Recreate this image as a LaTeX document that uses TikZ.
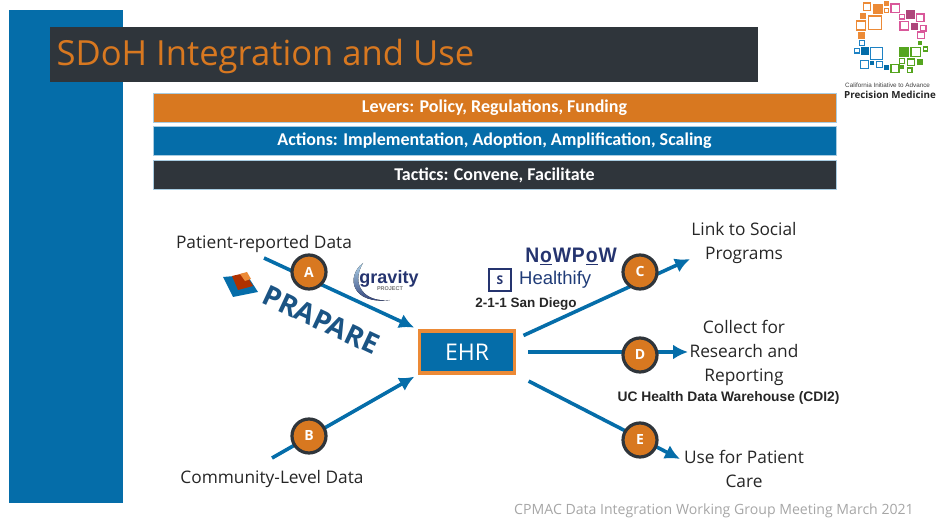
\documentclass[tikz,border=0pt]{standalone}
\usepackage{fontspec}
\setmainfont{Open Sans}
\newfontfamily\barfont{Carlito}
\newfontfamily\arialfont{Liberation Sans}
\usetikzlibrary{arrows.meta}
\definecolor{slideblue}{HTML}{056DA9}
\definecolor{slideorange}{HTML}{D87820}
\definecolor{slidedark}{HTML}{2F353B}
\definecolor{logonavy}{HTML}{25346F}
\definecolor{prapareblue}{HTML}{1B5484}
\definecolor{logoorange}{HTML}{EC8A36}
\definecolor{logopink}{HTML}{D9589A}
\definecolor{logogreen}{HTML}{55A51F}
\definecolor{logoblue}{HTML}{1E82C4}
\tikzset{
    barbox/.style={draw=slideblue!35, line width=0.8pt, text=white, minimum width=683pt, minimum height=29pt, inner sep=0pt, font=\barfont\bfseries\fontsize{18}{20}\selectfont},
    flow/.style={draw=slideblue, line width=3.6pt, -{Latex[length=15pt,width=15pt]}},
    badge/.style={circle, draw=slidedark, fill=slideorange, line width=3.2pt, inner sep=0pt, minimum size=34pt, text=white, font=\bfseries\fontsize{14}{14}\selectfont},
    label/.style={align=center, text=black!85, font=\fontsize{17.3}{24}\selectfont},
    boldnote/.style={text=black!85, font=\arialfont\bfseries\fontsize{13.8}{15}\selectfont},
    openbit/.style={draw=#1, line width=1.6pt, fill=white},
    solidbit/.style={fill=#1}
}
\begin{document}
\begin{tikzpicture}[x=1pt, y=-1pt]
    \useasboundingbox (0,0) rectangle (937,518);
    % slide frame
    \fill[slideblue] (9,10) rectangle (123,503);
    \node[fill=slidedark, minimum width=708pt, minimum height=55pt, inner sep=0pt, name=titlebar] at (404,54.5) {};
    \node[anchor=west, text=slideorange, font=\fontsize{34.6}{37}\selectfont, name=title] at (53,57) {SDoH Integration and Use};

    \node[barbox, fill=slideorange, name=levers] at (494.5,107.5) {\raisebox{-2pt}{Levers: Policy, Regulations, Funding}};
    \node[barbox, fill=slideblue, name=actions] at (494.5,140.5) {\raisebox{-2pt}{Actions: Implementation, Adoption, Amplification, Scaling}};
    \node[barbox, fill=slidedark, name=tactics] at (494.5,175) {\raisebox{-2pt}{Tactics: Convene, Facilitate}};

    % logo squares
    \begin{scope}[shift={(780,0)}, x=0.3333pt, y=-0.3333pt]
        \foreach \px/\py/\ps in {261/20/22, 320/31/12, 285/68/40, 243/77/27}
            \draw[openbit=logoorange] (\px-\ps/2,\py-\ps/2) rectangle (\px+\ps/2,\py+\ps/2);
        \foreach \px/\py/\ps in {294/27/28, 320/11/16, 249/48/18, 244/106/20}
            \fill[solidbit=logoorange] (\px-\ps/2,\py-\ps/2) rectangle (\px+\ps/2,\py+\ps/2);
        \foreach \px/\py/\ps in {346/25/25, 366/50/14, 421/53/22, 373/77/26, 430/85/16, 423/106/20}
            \draw[openbit=logopink] (\px-\ps/2,\py-\ps/2) rectangle (\px+\ps/2,\py+\ps/2);
        \foreach \px/\py/\ps in {391/44/28, 403/80/20}
            \fill[solidbit=logopink!80!black] (\px-\ps/2,\py-\ps/2) rectangle (\px+\ps/2,\py+\ps/2);
        \foreach \px/\py/\ps in {436/147/12, 407/156/28, 366/183/14, 393/187/20, 345/206/24, 389/211/14}
            \draw[openbit=logogreen] (\px-\ps/2,\py-\ps/2) rectangle (\px+\ps/2,\py+\ps/2);
        \foreach \px/\py/\ps in {420/129/14, 373/156/30, 421/187/18, 366/201/12}
            \fill[solidbit=logogreen] (\px-\ps/2,\py-\ps/2) rectangle (\px+\ps/2,\py+\ps/2);
        \foreach \px/\py/\ps in {246/129/16, 231/152/14, 290/160/36, 254/193/24, 299/193/18}
            \draw[openbit=logoblue] (\px-\ps/2,\py-\ps/2) rectangle (\px+\ps/2,\py+\ps/2);
        \foreach \px/\py/\ps in {254/154/24, 276/190/12, 320/203/16}
            \fill[solidbit=slideblue] (\px-\ps/2,\py-\ps/2) rectangle (\px+\ps/2,\py+\ps/2);
    \end{scope}
    \node[anchor=west, inner sep=0pt, text=black!75, font=\arialfont\fontsize{6.3}{7}\selectfont, name=caltext] at (845,85.5) {California Initiative to Advance};
    \node[anchor=west, inner sep=0pt, text=black!85, font=\bfseries\fontsize{9.8}{11}\selectfont, name=pmtext] at (844,95) {Precision Medicine};

    % centre box and arrows
    \node[draw=logoorange, fill=slideblue, line width=3.4pt, minimum width=95pt, minimum height=42pt, inner sep=0pt, text=white, font=\fontsize{23}{25}\selectfont, name=ehr] at (467,352) {EHR};

    \coordinate (astart) at (264,258);
    \coordinate (bstart) at (272,458);
    \coordinate (cend) at (690,259);
    \coordinate (dend) at (688,352);
    \coordinate (eend) at (680,459);
    \draw[flow, shorten >=4pt] (astart) -- (ehr.north west);
    \draw[flow, shorten >=4pt] (bstart) -- (ehr.south west);
    \draw[flow, shorten <=8pt] (ehr.15) -- (cend);
    \draw[flow, shorten <=12pt] (ehr.east) -- (dend);
    \draw[flow, shorten <=14pt] (ehr.south east) -- (eend);

    \node[badge, name=A] at (309,272) {A};
    \node[badge, name=B] at (309,436) {B};
    \node[badge, name=C] at (640,272) {C};
    \node[badge, name=D] at (640,355) {D};
    \node[badge, name=E] at (640,440) {E};

    % labels
    \node[label, name=patient] at (264,244.5) {Patient-reported Data};
    \node[label, name=community] at (272,479.5) {Community-Level Data};
    \node[label, name=social] at (744,243.5) {Link to Social\\Programs};
    \node[label, name=research] at (744,352.5) {Collect for\\Research and\\Reporting};
    \node[label, name=care] at (744,469) {Use for Patient\\Care};
    \node[boldnote, name=warehouse] at (728.5,397.5) {UC Health Data Warehouse (CDI2)};
    \node[boldnote, font=\arialfont\bfseries\fontsize{13.5}{15}\selectfont, name=sandiego] at (526,304) {2-1-1 San Diego};
    \node[text=black!35, font=\fontsize{14.1}{16}\selectfont, name=meeting] at (714,511) {CPMAC Data Integration Working Group Meeting March 2021};

    % PRAPARE mark
    \fill[slideblue] (223,277) -- (247,275) -- (258,292) -- (233,297) -- cycle;
    \fill[black!45!orange!70!red] (232,276) -- (245,273) -- (253,286) -- (238,290) -- cycle;
    \fill[logoorange] (240,274) -- (247,272) -- (251,279) -- (245,281) -- cycle;
    \node[rotate=-25, text=prapareblue, inner sep=0pt, font=\bfseries\fontsize{28}{30}\selectfont, name=prapare] at (321,320) {PRAPARE};

    % gravity mark
    \fill[top color=logoblue!35, bottom color=logonavy] (363,263) .. controls (345,277) and (352,305) .. (390,300) .. controls (365,303) and (350,285) .. cycle;
    \node[text=logonavy, font=\arialfont\bfseries\fontsize{18}{18}\selectfont, inner sep=0pt, name=gravity] at (389,279) {gravity};
    \node[text=black!55, font=\arialfont\bfseries\fontsize{5.5}{6}\selectfont, inner sep=0pt, name=gravsub] at (390,288.5) {PROJECT};

    % referral marks
    \node[xscale=0.92, text=logonavy, font=\arialfont\bfseries\fontsize{21}{22}\selectfont, inner sep=0pt, name=nowpow] at (571,256) {N\kern1pt\underline{o}\kern1pt W\kern1pt P\kern1pt\underline{o}\kern1pt W};
    \node[draw=logonavy, line width=1.2pt, minimum size=22pt, inner sep=0pt, text=logonavy, font=\bfseries\fontsize{12}{12}\selectfont, name=hicon] at (500,280) {S};
    \node[anchor=west, text=logonavy!85!slideblue, font=\arialfont\fontsize{18.5}{20}\selectfont, inner sep=0pt, name=healthify] at (519,280) {Healthify};
\end{tikzpicture}
\end{document}
